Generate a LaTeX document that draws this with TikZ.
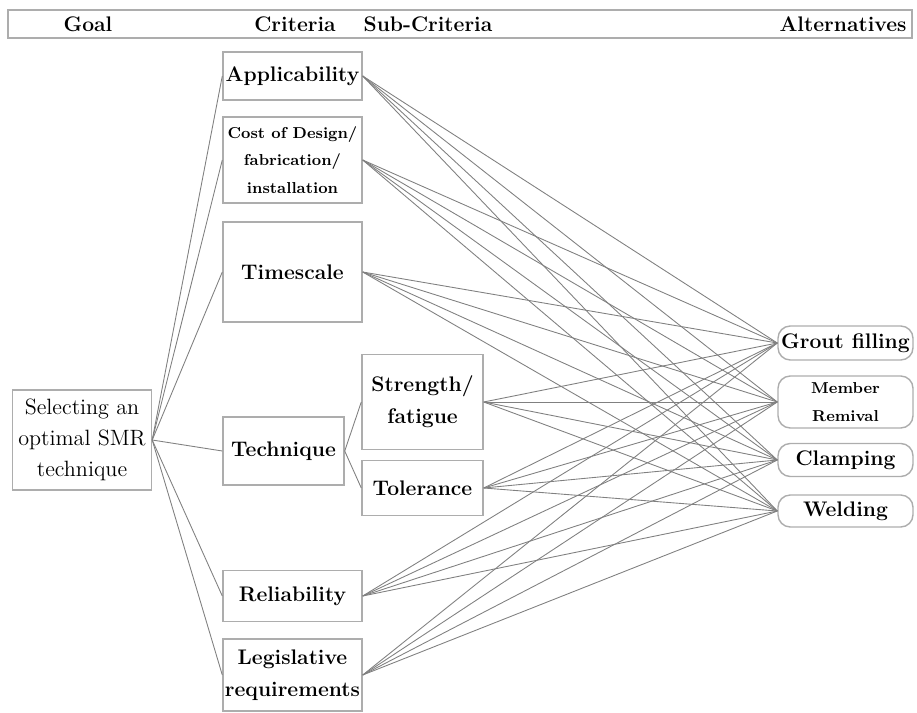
\documentclass[tikz,border=0pt]{standalone}
\usepackage{tikz}
\usetikzlibrary{positioning}
\definecolor{boxgray}{gray}{0.68}
\definecolor{wiregray}{gray}{0.5}

\tikzset{
  box/.style={draw=boxgray, line width=0.8pt, align=center, inner sep=1pt},
  alt/.style={box, rounded corners=7pt},
  wire/.style={draw=wiregray, line width=0.5pt},
  head/.style={font=\bfseries\large},
  big/.style={font=\bfseries\fontsize{12}{18}\selectfont},
  tiny/.style={font=\bfseries\fontsize{9}{15.5}\selectfont},
}

\begin{document}
\begin{tikzpicture}[x=0.02cm, y=-0.02cm]
        \useasboundingbox (0,0) rectangle (917,713);

        % header bar
        \draw[draw=boxgray, line width=0.8pt] (8,10) rectangle (912,38);
        \node[head] (hgoal) at (88,24)  {Goal};
        \node[head] (hcrit) at (295,24) {Criteria};
        \node[head] (hsub)  at (428,24) {Sub-Criteria};
        \node[head] (halt)  at (843,24) {Alternatives};

        % goal
        \node[box, font=\fontsize{12.6}{17.5}\selectfont, minimum width=139*0.02cm, minimum height=100*0.02cm] (goal) at (82,440)
              {Selecting an\\optimal SMR\\technique};

        % criteria
        \node[box, big,  minimum width=139*0.02cm, minimum height=48*0.02cm]  (app)  at (292.5,76)  {Applicability};
        \node[box, tiny, minimum width=139*0.02cm, minimum height=86*0.02cm]  (cost) at (292.5,160) {Cost of Design/\\fabrication/\\installation};
        \node[box, big,  minimum width=139*0.02cm, minimum height=100*0.02cm] (time) at (292.5,272) {Timescale};
        \node[box, big,  minimum width=121*0.02cm, minimum height=68*0.02cm]  (tech) at (283.5,451) {Technique};
        \node[box, big,  minimum width=139*0.02cm, minimum height=51*0.02cm]  (rel)  at (292.5,596) {Reliability};
        \node[box, big,  minimum width=139*0.02cm, minimum height=72*0.02cm]  (leg)  at (292.5,675) {Legislative\\requirements};

        % sub-criteria
        \node[box, big, minimum width=121*0.02cm, minimum height=95*0.02cm] (str) at (422.5,402) {Strength/\\fatigue};
        \node[box, big, minimum width=121*0.02cm, minimum height=55*0.02cm] (tol) at (422.5,488) {Tolerance};

        % alternatives
        \node[alt, big,  minimum width=135*0.02cm, minimum height=34*0.02cm] (grout)  at (845.5,343) {Grout filling};
        \node[alt, tiny, minimum width=135*0.02cm, minimum height=52*0.02cm] (member) at (845.5,402) {Member\\Remival};
        \node[alt, big,  minimum width=135*0.02cm, minimum height=33*0.02cm] (clamp)  at (845.5,460) {Clamping};
        \node[alt, big,  minimum width=135*0.02cm, minimum height=32*0.02cm] (weld)   at (845.5,511) {Welding};

        % goal to criteria
        \foreach \c in {app,cost,time,tech,rel,leg}
            \draw[wire] (goal.east) -- (\c.west);

        % technique to sub-criteria
        \draw[wire] (tech.east) -- (str.west);
        \draw[wire] (tech.east) -- (tol.west);

        % everything to alternatives
        \foreach \c in {app,cost,time,str,tol,rel,leg}
            \foreach \a in {grout,member,clamp,weld}
                \draw[wire] (\c.east) -- (\a.west);
    \end{tikzpicture}
\end{document}
